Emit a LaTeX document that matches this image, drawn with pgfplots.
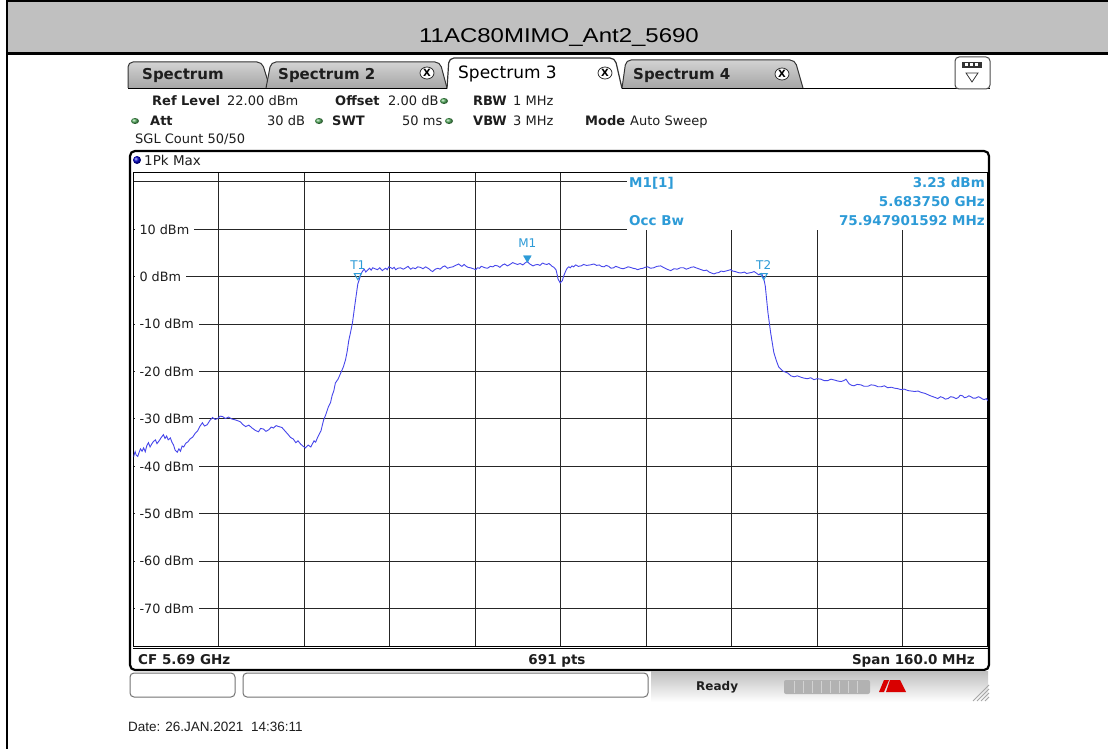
\documentclass[border=0pt]{standalone}
\usepackage{fontspec}
\setmainfont{DejaVu Sans}
\newfontfamily\arialf{Liberation Sans}
\usepackage{pgfplots}
\pgfplotsset{compat=1.18}
\definecolor{trace}{RGB}{70,70,235}
\definecolor{mk}{RGB}{45,155,215}
\definecolor{hdr}{RGB}{192,192,192}
\definecolor{led}{RGB}{80,170,90}
\definecolor{txt}{RGB}{30,30,30}
\newcommand\fs[1]{\fontsize{#1bp}{#1bp}\selectfont}
\begin{document}
\begin{tikzpicture}[x=1bp,y=1bp,every node/.style={inner sep=0pt}]
\useasboundingbox (0,0) rectangle (1108,-749);
\fill[white] (0,0) rectangle (1108,-749);
% ---------------- header of the table
\fill[hdr] (7,0) rectangle (1108,-53);
\draw[line width=2bp] (6,-1.5) -- (1108,-1.5);
\draw[line width=2.5bp] (7,-53.5) -- (1108,-53.5);
\draw[line width=2bp] (7,0) -- (7,-749);
\node[font=\arialf\fs{20}] at (559,-38) {\scalebox{1.2}[1]{11AC80MIMO\_Ant2\_5690}};
% ---------------- tabs
\path[draw=black!80, line width=1bp, top color=gray!35, bottom color=gray!70, rounded corners=5bp]
  (128,-88) -- (128,-62) -- (262,-62) -- (270,-88);
\path[draw=black!80, line width=1bp, top color=gray!35, bottom color=gray!70, rounded corners=5bp]
  (266,-88) -- (271,-62) -- (440,-62) -- (447,-88);
\path[draw=black!80, line width=1.2bp, fill=white, rounded corners=5bp]
  (447,-88.5) -- (449,-58) -- (615,-58) -- (622,-88.5);
\path[draw=black!80, line width=1bp, top color=gray!35, bottom color=gray!70, rounded corners=5bp]
  (622,-88) -- (626,-60) -- (795,-60) -- (803,-88);
\draw[line width=1.5bp] (128,-88.5) -- (447,-88.5);
\draw[line width=1.5bp] (622,-88.5) -- (990,-88.5);
\node[anchor=base west, font=\bfseries\fs{15}, text=txt] at (142,-80) {Spectrum};
\node[anchor=base west, font=\bfseries\fs{15}, text=txt] at (278,-80) {Spectrum 2};
\node[anchor=base west, font=\fs{17}, text=black] at (458,-79) {Spectrum 3};
\node[anchor=base west, font=\bfseries\fs{15}, text=txt] at (633,-80) {Spectrum 4};
\foreach \cx/\cy in {427/-73, 605/-73, 782/-74}{
  \draw[black!80, fill=white, line width=0.8bp] (\cx,\cy) ellipse (7 and 6);
  \node[font=\bfseries\fs{10}] at (\cx,\cy) {X};
}
% icon at right
\draw[black!70, fill=white, line width=1bp, rounded corners=4bp] (955,-57) rectangle (990,-89);
\fill[black!80] (962,-62) rectangle (982,-68);
\foreach \x in {965,970,975}{\fill[white] (\x,-63.5) rectangle (\x+3,-66.5);}
\draw[black!80, line width=0.8bp] (966,-73) -- (978,-73) -- (972,-82) -- cycle;
% ---------------- setting lines
\begin{scope}[text=txt]
\node[anchor=base west, font=\bfseries\fs{13}] at (152,-106) {Ref Level};
\node[anchor=base west, font=\fs{13}] at (227,-106) {22.00 dBm};
\node[anchor=base west, font=\bfseries\fs{13}] at (335,-106) {Offset};
\node[anchor=base west, font=\fs{13}] at (388,-106) {2.00 dB};
\node[anchor=base west, font=\bfseries\fs{13}] at (473,-106) {RBW};
\node[anchor=base west, font=\fs{13}] at (513,-106) {1 MHz};
\node[anchor=base west, font=\bfseries\fs{13}] at (150,-125) {Att};
\node[anchor=base west, font=\fs{13}] at (267,-125) {30 dB};
\node[anchor=base west, font=\bfseries\fs{13}] at (332,-125) {SWT};
\node[anchor=base west, font=\fs{13}] at (402,-125) {50 ms};
\node[anchor=base west, font=\bfseries\fs{13}] at (473,-125) {VBW};
\node[anchor=base west, font=\fs{13}] at (513,-125) {3 MHz};
\node[anchor=base west, font=\bfseries\fs{13}] at (585,-125) {Mode};
\node[anchor=base west, font=\fs{13}] at (630,-125) {Auto Sweep};
\node[anchor=base west, font=\fs{13}] at (135,-143) {SGL Count 50/50};
\end{scope}
\foreach \lx/\ly in {444/-101, 135/-121, 319/-121, 449/-121}{
  \shade[ball color=led] (\lx,\ly) ellipse (4 and 3);
}
% ---------------- diagram panel
\fill[white] (130,-151) rectangle (989,-670);
\shade[ball color=blue!80!black] (137,-160) circle (4);
\node[anchor=base west, font=\fs{13.5}, text=txt] at (144,-165) {1Pk Max};

\begin{axis}[
  at={(133.5bp,-172.5bp)}, anchor=north west,
  width=854.5bp, height=474bp, scale only axis,
  xmin=5610, xmax=5770, ymin=-78, ymax=22,
  xtick={5626,5642,5658,5674,5690,5706,5722,5738,5754},
  ytick={-70,-60,-50,-40,-30,-20,-10,0,10,20},
  xticklabels={}, yticklabels={},
  major tick length=0pt,
  grid=major,
  major grid style={draw=black!85, line width=1bp},
  axis line style={draw=black, line width=1.2bp},
]
\addplot[trace, line width=0.9bp] coordinates {
(5610,-38.0) (5610.3,-36.9) (5610.5,-37.6) (5610.8,-37.9) (5611,-37.2) (5611.3,-36.3)
(5611.6,-36.8) (5611.9,-36.1) (5612.2,-36.9) (5612.5,-35.6) (5612.8,-35.0) (5613.1,-35.9)
(5613.4,-35.3) (5613.7,-34.8) (5614.1,-34.4) (5614.4,-35.2) (5614.8,-34.6) (5615.2,-33.9)
(5615.6,-33.3) (5615.9,-34.1) (5616.2,-33.6) (5616.5,-34.4) (5616.9,-34.0) (5617.2,-34.9)
(5617.5,-35.5) (5617.8,-36.6) (5618.2,-37.0) (5618.5,-36.3) (5618.8,-36.8) (5619.1,-35.7)
(5619.4,-35.9) (5619.8,-35.1) (5620.2,-34.8) (5620.6,-34.2) (5621.1,-33.8) (5621.5,-33.1)
(5622.0,-32.5) (5622.4,-31.6) (5622.9,-30.8) (5623.3,-31.5) (5623.8,-31.2) (5624.3,-30.3)
(5624.8,-29.7) (5625.3,-30.1) (5625.8,-29.9) (5626.2,-29.4) (5626.7,-29.5) (5627.2,-29.9)
(5627.8,-29.6) (5628.4,-30.0) (5629.1,-30.2) (5629.6,-30.4) (5630.0,-30.6) (5630.5,-31.2)
(5631.0,-31.6) (5631.6,-31.3) (5632.2,-31.9) (5632.8,-32.4) (5633.4,-32.7) (5633.8,-32.0)
(5634.3,-32.1) (5634.8,-32.6) (5635.3,-32.3) (5635.8,-31.7) (5636.2,-31.9) (5636.7,-31.4)
(5637.2,-31.6) (5637.8,-31.8) (5638.5,-32.7) (5638.9,-33.2) (5639.4,-33.9) (5639.9,-34.2)
(5640.4,-35.0) (5640.8,-34.6) (5641.3,-35.3) (5641.7,-35.7) (5642.2,-36.1) (5642.7,-35.5)
(5643.2,-35.9) (5643.8,-34.6) (5644.1,-34.9) (5644.5,-33.8) (5645.1,-32.5) (5645.6,-30.2)
(5646.0,-29.1) (5646.5,-27.4) (5646.9,-26.5) (5647.2,-25.0) (5647.5,-24.1) (5647.8,-22.4)
(5648.3,-21.6) (5648.8,-20.3) (5649.3,-19.0) (5649.7,-17.5) (5650.0,-15.8) (5650.3,-13.5)
(5650.7,-11.4) (5651.0,-9.7) (5651.5,-5.5) (5652.0,-1.5) (5652.3,-0.5) (5652.6,0.6)
(5652.9,1.2) (5653.2,1.6) (5653.5,1.0) (5653.9,1.5) (5654.2,1.8) (5654.5,1.4)
(5654.8,1.9) (5655.2,1.7) (5655.7,1.5) (5656.1,1.9) (5656.6,1.3) (5656.9,1.6)
(5657.2,1.8) (5657.5,1.5) (5657.8,2.1) (5658.2,1.9) (5658.5,1.7) (5658.8,2.0)
(5659.1,1.5) (5659.5,1.8) (5660.0,1.9) (5660.5,1.6) (5661.0,1.9) (5661.4,2.2)
(5661.9,1.6) (5662.3,1.9) (5662.8,1.7) (5663.2,2.1) (5663.7,2.0) (5664.2,1.7)
(5664.7,2.1) (5665.0,1.9) (5665.4,1.6) (5665.7,1.3) (5666.0,1.1) (5666.5,1.6)
(5667.0,1.8) (5667.4,1.6) (5667.9,2.1) (5668.3,2.3) (5668.8,1.8) (5669.3,2.0)
(5669.8,2.1) (5670.3,2.4) (5670.9,2.7) (5671.2,2.4) (5671.5,2.2) (5671.9,2.6)
(5672.2,2.3) (5672.6,2.0) (5673.1,1.9) (5673.6,1.7) (5674.1,1.5) (5674.4,1.9)
(5674.8,1.8) (5675.1,2.2) (5675.4,2.1) (5675.8,1.9) (5676.3,1.8) (5676.8,2.2)
(5677.3,2.1) (5677.7,2.4) (5678.2,2.3) (5678.6,2.0) (5679.1,2.5) (5679.5,2.7)
(5680.0,2.3) (5680.5,2.6) (5681.0,3.0) (5681.4,2.8) (5681.9,2.6) (5682.4,2.8)
(5682.9,2.5) (5683.3,2.9) (5683.75,3.23) (5684.2,2.7) (5684.8,2.3) (5685.2,2.5)
(5685.7,2.6) (5686.1,2.4) (5686.6,2.9) (5687.0,2.7) (5687.4,2.6) (5687.8,2.8)
(5688.1,2.5) (5688.4,2.2) (5688.7,2.0) (5689.1,1.5) (5689.3,0.6) (5689.5,-0.5)
(5689.9,-1.3) (5690.3,-0.8) (5690.5,0.0) (5690.7,0.6) (5691.0,1.4) (5691.2,1.8)
(5691.5,2.1) (5691.8,1.9) (5692.1,2.3) (5692.4,2.1) (5692.8,2.5) (5693.3,2.2)
(5693.8,2.3) (5694.3,2.6) (5694.8,2.4) (5695.5,2.5) (5696.2,2.7) (5696.7,2.4)
(5697.2,2.5) (5697.6,2.2) (5698.1,2.1) (5698.5,2.4) (5699.0,2.2) (5699.4,1.8)
(5699.9,1.9) (5700.3,2.2) (5700.8,2.0) (5701.2,1.8) (5701.7,1.7) (5702.2,1.9)
(5702.6,2.1) (5703.0,2.0) (5703.5,1.8) (5704.0,1.7) (5704.4,1.5) (5704.9,1.7)
(5705.4,1.8) (5705.8,2.0) (5706.3,2.1) (5706.8,1.8) (5707.4,1.9) (5708.0,2.2)
(5708.7,2.3) (5709.2,2.0) (5709.7,1.7) (5710.1,1.5) (5710.6,1.3) (5711.2,1.7)
(5711.8,1.6) (5712.4,1.9) (5713.0,1.9) (5713.5,1.6) (5714.0,1.8) (5714.4,2.0)
(5714.9,2.1) (5715.3,1.9) (5715.8,1.7) (5716.3,1.5) (5716.8,1.3) (5717.3,1.4)
(5717.8,1.0) (5718.2,0.8) (5718.7,0.6) (5719.1,0.8) (5719.6,0.9) (5720.0,1.2)
(5720.5,1.1) (5721.2,1.3) (5721.8,1.5) (5722.2,1.2) (5722.7,1.1) (5723.2,0.9)
(5723.7,0.8) (5724.4,1.0) (5724.8,0.7) (5725.2,0.8) (5725.7,0.9) (5726.2,1.1)
(5726.6,0.8) (5727.1,0.4) (5727.6,0.7) (5728.0,-0.3) (5728.3,-2.0) (5728.8,-7.6)
(5729.3,-11.8) (5729.9,-16.0) (5730.4,-17.8) (5730.8,-19.0) (5731.6,-19.9) (5732.5,-20.3)
(5733.1,-20.9) (5733.7,-21.1) (5734.3,-20.9) (5735.0,-21.2) (5735.6,-21.4) (5736.2,-21.5)
(5736.8,-21.3) (5737.4,-21.7) (5738.0,-21.5) (5738.7,-21.6) (5739.3,-21.9) (5740.0,-21.9)
(5740.6,-21.6) (5741.3,-21.8) (5741.9,-22.0) (5742.5,-22.1) (5743.0,-21.9) (5743.4,-21.6)
(5744.0,-22.6) (5744.5,-22.9) (5744.9,-23.0) (5745.5,-22.7) (5746.2,-22.8) (5746.8,-23.1)
(5747.5,-23.1) (5748.1,-22.8) (5748.8,-22.9) (5749.4,-23.2) (5750.0,-23.2) (5750.6,-23.0)
(5751.2,-23.4) (5751.9,-23.3) (5752.5,-23.5) (5753.1,-23.6) (5753.7,-23.8) (5754.3,-23.7)
(5755.0,-24.0) (5755.6,-24.1) (5756.3,-24.2) (5756.9,-24.1) (5757.5,-24.4) (5758.2,-24.6)
(5758.8,-24.9) (5759.2,-25.1) (5759.7,-25.3) (5760.2,-25.5) (5760.6,-25.7) (5761.1,-25.3)
(5761.6,-25.5) (5762.0,-25.8) (5762.5,-25.7) (5763.0,-25.3) (5763.5,-25.4) (5764.0,-25.7)
(5764.4,-25.5) (5764.8,-25.0) (5765.2,-25.1) (5765.6,-25.5) (5766.0,-25.4) (5766.4,-25.1)
(5766.8,-25.3) (5767.2,-25.6) (5767.7,-25.6) (5768.2,-25.3) (5768.6,-25.5) (5769.0,-25.8)
(5769.3,-25.9) (5769.7,-25.7) (5770,-26.2)
};
% markers
\addplot[only marks, mark=triangle*, mark size=4.5bp, color=mk,
  mark options={yshift=3.5bp, rotate=180},
  point meta=explicit symbolic, nodes near coords,
  nodes near coords style={font=\fs{12}, text=mk, anchor=south, yshift=10bp}]
  coordinates {(5683.75,3.23) [M1]};
\addplot[only marks, mark=triangle, mark size=4bp, color=mk, line width=1bp,
  mark options={yshift=3bp, rotate=180},
  point meta=explicit symbolic, nodes near coords,
  nodes near coords style={font=\fs{12}, text=mk, anchor=south, yshift=6bp}]
  coordinates {(5652.0,-0.4) [T1] (5728.0,-0.4) [T2]};
\pgfplotsinvokeforeach{10,0,-10,-20,-30,-40,-50,-60,-70}{
  \node[anchor=west, fill=white, inner xsep=5bp, inner ysep=1.5bp, font=\fs{12.8}, text=txt, xshift=0.8bp]
    at (axis cs:5610,#1) {#1 dBm};
}
\end{axis}
% marker info
\fill[white] (627,-173.3) rectangle (987.2,-230.3);
\begin{scope}[font=\bfseries\fs{13.5}, text=mk]
\node[anchor=base west] at (629,-187) {M1[1]};
\node[anchor=base east] at (985,-187) {3.23 dBm};
\node[anchor=base east] at (985,-206) {5.683750 GHz};
\node[anchor=base west] at (629,-225) {Occ Bw};
\node[anchor=base east] at (985,-225) {75.947901592 MHz};
\end{scope}
% footer row
\draw[black, line width=1bp] (133,-648) -- (988,-648);
\node[anchor=base west, font=\bfseries\fs{13.5}, text=txt] at (138,-664) {CF 5.69 GHz};
\node[anchor=base, font=\bfseries\fs{13.5}, text=txt] at (557,-664) {691 pts};
\node[anchor=base east, font=\bfseries\fs{13.5}, text=txt] at (975,-664) {Span 160.0 MHz};
\draw[black, line width=2.2bp, rounded corners=5bp] (130,-151) rectangle (989,-670);
% ---------------- status bar
\shade[top color=gray!50, bottom color=white] (651,-671.5) rectangle (988,-702);
\draw[black!55, line width=1bp, rounded corners=4bp] (130,-673) rectangle (235,-697);
\draw[black!55, line width=1bp, rounded corners=4bp] (243,-673) rectangle (648,-697);
\node[anchor=base west, font=\bfseries\fs{12}, text=txt] at (696,-690) {Ready};
\fill[gray!60, rounded corners=2bp] (784,-680) rectangle (870,-694);
\foreach \x in {794,803,812,821,830,839,848,857}{\draw[gray!35, line width=0.8bp] (\x,-681) -- (\x,-693);}
\fill[red!85!black] (884,-680) -- (889,-680) -- (884,-692) -- (879,-692) -- cycle;
\fill[red!85!black] (890,-680) -- (900,-680) -- (906,-692) -- (886,-692) -- cycle;
\foreach \k in {0,4,8,12,16}{\draw[gray!70, line width=0.8bp] (973+\k,-701) -- (989,-685-\k);}
% date
\node[anchor=base west, font=\arialf\fs{13.5}, text=txt] at (128,-731) {Date: 26.JAN.2021\ \ 14:36:11};
\end{tikzpicture}
\end{document}
